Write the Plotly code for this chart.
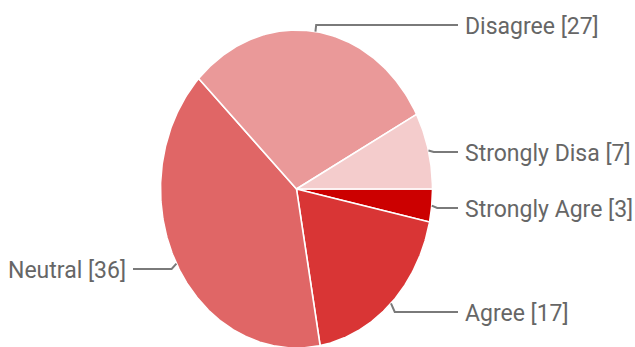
import numpy as np
import plotly.graph_objects as go

# Survey responses, drawn clockwise starting from 3 o'clock
categories = ["Strongly Agre", "Agree", "Neutral", "Disagree", "Strongly Disa"]
counts = [3, 17, 36, 27, 7]
colors = ["#cc0000", "#d93535", "#e06666", "#ea9999", "#f4cccc"]
label_side = ["right", "right", "left", "right", "right"]
# vertical position of each label row, in pixels from the top
label_row_px = [208, 312, 269, 25, 152]

W, H = 635, 347
# pie geometry in pixels (the pie is drawn slightly taller than wide)
cx_px, cy_px = 296.5, 189.0
rx_px, ry_px = 136.0, 159.0

# axis ranges so that the unit circle in data space becomes the ellipse above
x_range = [-cx_px / rx_px, (W - cx_px) / rx_px]
y_range = [-(H - cy_px) / ry_px, cy_px / ry_px]

total = float(sum(counts))
start_deg = 90.0  # clockwise from 12 o'clock

fig = go.Figure()


def point(theta_deg, r=1.0):
    t = np.radians(theta_deg)
    return r * np.sin(t), r * np.cos(t)


angle = start_deg
mids = []
for name, val, col in zip(categories, counts, colors):
    sweep = 360.0 * val / total
    thetas = np.linspace(angle, angle + sweep, max(int(sweep * 2), 4))
    xs = [0.0] + [point(t)[0] for t in thetas] + [0.0]
    ys = [0.0] + [point(t)[1] for t in thetas] + [0.0]
    fig.add_trace(go.Scatter(
        x=xs, y=ys, mode="lines", fill="toself", fillcolor=col,
        line=dict(color="white", width=1.6), hoverinfo="skip",
        showlegend=False,
    ))
    mids.append(angle + sweep / 2)
    angle += sweep

# leader lines and labels
right_text_x = (463 - cx_px) / rx_px
right_line_x = (458 - cx_px) / rx_px
left_text_x = (128 - cx_px) / rx_px
left_line_x = (133 - cx_px) / rx_px

for name, val, mid, side, row in zip(categories, counts, mids, label_side, label_row_px):
    ex, ey = point(mid, 1.0)
    bx, _ = point(mid, 1.04)
    row_y = (cy_px - row) / ry_px
    end_x = right_line_x if side == "right" else left_line_x
    fig.add_trace(go.Scatter(
        x=[ex, bx, end_x], y=[ey, row_y, row_y], mode="lines",
        line=dict(color="#7a7a7a", width=2), hoverinfo="skip",
        showlegend=False,
    ))
    fig.add_annotation(
        x=right_text_x if side == "right" else left_text_x, y=row_y,
        text=f"{name} [{val}]", showarrow=False,
        xanchor="left" if side == "right" else "right", yanchor="middle",
        font=dict(family="Roboto", size=23, color="#666666"),
        yshift=-1,
    )

fig.update_layout(
    width=W, height=H,
    margin=dict(l=0, r=0, t=0, b=0),
    paper_bgcolor="white", plot_bgcolor="white",
    xaxis=dict(range=x_range, visible=False, fixedrange=True),
    yaxis=dict(range=y_range, visible=False, fixedrange=True),
    showlegend=False,
)

fig.write_html("out.html")
